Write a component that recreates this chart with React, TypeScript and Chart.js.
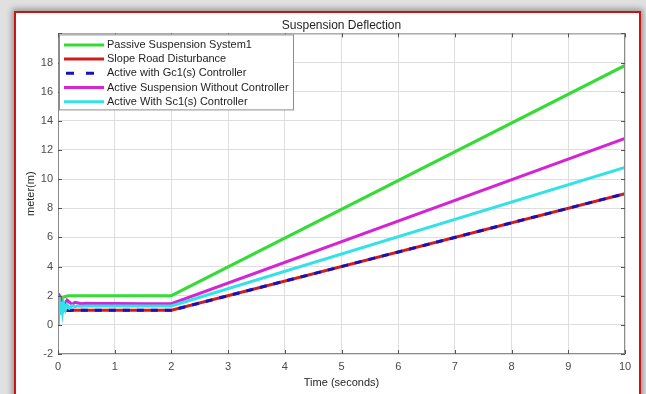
import { useEffect, useRef } from "react";
import { Chart, registerables } from "chart.js";

Chart.register(...registerables);

// Simulation time (s) and suspension deflection (m) of each configuration
const timeSec = [0, 0.02, 0.04, 0.06, 0.08, 0.1, 0.13, 0.16, 0.2, 0.25, 0.3, 0.35, 0.4, 0.5, 0.7, 1.0, 1.5, 2.0, 10];
const passiveSystem = [0, 1.0, 1.5, 1.75, 1.85, 1.9, 1.95, 1.98, 2.0, 2.0, 2.0, 2.0, 2.0, 2.0, 2.0, 2.0, 2.0, 2.0, 17.8];
const slopeRoad = [1, 1, 1, 1, 1, 1, 1, 1, 1, 1, 1, 1, 1, 1, 1, 1, 1, 1, 9];
const activeGc1 = [0.9, 1.1, 1.15, 1.0, 0.9, 0.95, 1.05, 1.0, 0.98, 1.0, 1.0, 1.0, 1.0, 1.0, 1.0, 1.0, 1.0, 1.0, 9.0];
const activeNoController = [2.0, 2.05, 1.9, 1.6, 1.3, 1.2, 1.5, 1.7, 1.55, 1.42, 1.55, 1.5, 1.45, 1.48, 1.46, 1.46, 1.45, 1.45, 12.8];
const activeSc1 = [0, 1.9, 0.7, 1.6, 0.9, 1.45, 1.05, 1.38, 1.15, 1.33, 1.25, 1.3, 1.27, 1.3, 1.3, 1.3, 1.3, 1.3, 10.8];

const seriesLabels = [
  "Passive Suspension System1",
  "Slope Road Disturbance",
  "Active with Gc1(s) Controller",
  "Active Suspension Without Controller",
  "Active With Sc1(s) Controller",
];
const seriesValues = [passiveSystem, slopeRoad, activeGc1, activeNoController, activeSc1];
const seriesColors = ["#35dc35", "#d21c1c", "#1212c4", "#d425d4", "#33e2e6"];
const seriesDash: number[][] = [[], [], [7, 7], [], []];
// MATLAB plots later series on top
const seriesOrder = [5, 4, 3, 2, 1];

const xTicks = [0, 1, 2, 3, 4, 5, 6, 7, 8, 9, 10];
const yTicks = [-2, 0, 2, 4, 6, 8, 10, 12, 14, 16, 18, 20];

const FONT = "'Liberation Sans', Arial, sans-serif";

const axesBoxPlugin = {
  id: "axesBox",
  afterDatasetsDraw(chart: any) {
    const { ctx, chartArea: a, scales } = chart;
    ctx.save();
    ctx.strokeStyle = "#8c8c8c";
    ctx.lineWidth = 1;
    ctx.strokeRect(a.left + 0.5, a.top + 0.5, a.right - a.left - 1, a.bottom - a.top - 1);
    ctx.strokeStyle = "#555";
    ctx.beginPath();
    const len = 4;
    for (const v of xTicks) {
      const x = Math.round(scales.x.getPixelForValue(v)) + 0.5;
      ctx.moveTo(x, a.bottom);
      ctx.lineTo(x, a.bottom - len);
      ctx.moveTo(x, a.top);
      ctx.lineTo(x, a.top + len);
    }
    for (const v of yTicks) {
      const y = Math.round(scales.y.getPixelForValue(v)) + 0.5;
      ctx.moveTo(a.left, y);
      ctx.lineTo(a.left + len, y);
      ctx.moveTo(a.right, y);
      ctx.lineTo(a.right - len, y);
    }
    ctx.stroke();
    ctx.restore();
  },
  afterDraw(chart: any) {
    const { ctx, chartArea: a } = chart;
    const left = a.left + 1;
    const top = a.top + 1;
    const w = 234;
    const h = 75;
    ctx.save();
    ctx.fillStyle = "#fff";
    ctx.fillRect(left, top, w, h);
    ctx.strokeStyle = "#8c8c8c";
    ctx.lineWidth = 1;
    ctx.strokeRect(left + 0.5, top + 0.5, w, h);
    ctx.font = `11px ${FONT}`;
    ctx.textBaseline = "middle";
    ctx.textAlign = "left";
    seriesLabels.forEach((label, i) => {
      const y = top + 10.5 + i * 14.2;
      ctx.strokeStyle = seriesColors[i];
      ctx.lineWidth = 3;
      ctx.setLineDash(i === 2 ? [8, 12] : []);
      ctx.lineDashOffset = -2;
      ctx.beginPath();
      ctx.moveTo(left + 5, y);
      ctx.lineTo(left + 45, y);
      ctx.stroke();
      ctx.setLineDash([]);
      ctx.fillStyle = "#1e1e1e";
      ctx.fillText(label, left + 48, y);
    });
    ctx.restore();
  },
};

export default function App() {
  const canvasRef = useRef<HTMLCanvasElement>(null);

  useEffect(() => {
    if (!canvasRef.current) return;
    const chart = new Chart(canvasRef.current, {
      type: "line",
      data: {
        datasets: seriesLabels.map((label, i) => ({
          label,
          data: timeSec.map((t, k) => ({ x: t, y: seriesValues[i][k] })),
          borderColor: seriesColors[i],
          backgroundColor: seriesColors[i],
          borderWidth: 3,
          borderDash: seriesDash[i],
          pointRadius: 0,
          tension: 0,
          fill: false,
          order: seriesOrder[i],
        })),
      },
      options: {
        animation: false,
        responsive: false,
        devicePixelRatio: 1,
        layout: { padding: { left: 0, right: 21, top: 0, bottom: 0 } },
        plugins: {
          legend: { display: false },
          tooltip: { enabled: false },
          title: {
            display: true,
            text: "Suspension Deflection",
            fullSize: false,
            color: "#1e1e1e",
            font: { family: FONT, size: 12, weight: "normal" },
            padding: { top: 18, bottom: 1 },
          },
        },
        scales: {
          x: {
            type: "linear",
            min: 0,
            max: 10,
            afterFit: (s: any) => {
              s.height = 40;
            },
            afterBuildTicks: (s: any) => {
              s.ticks = xTicks.map((v) => ({ value: v }));
            },
            ticks: {
              color: "#4a4a4a",
              font: { family: FONT, size: 11 },
              padding: 6,
              maxRotation: 0,
            },
            grid: { color: "#dedede", drawTicks: false },
            border: { display: false },
            title: {
              display: true,
              text: "Time (seconds)",
              color: "#262626",
              font: { family: FONT, size: 11 },
              padding: { top: 0, bottom: 4 },
            },
          },
          y: {
            type: "linear",
            min: -2,
            max: 20,
            afterFit: (s: any) => {
              s.width = 58;
            },
            afterBuildTicks: (s: any) => {
              s.ticks = yTicks.map((v) => ({ value: v }));
            },
            ticks: {
              color: "#4a4a4a",
              font: { family: FONT, size: 11 },
              padding: 5,
              callback: (v: any) => (Number(v) === 20 ? "" : String(v)),
            },
            grid: { color: "#dedede", drawTicks: false },
            border: { display: false },
            title: {
              display: true,
              text: "meter(m)",
              color: "#262626",
              font: { family: FONT, size: 11 },
              padding: { top: 24, bottom: 0 },
            },
          },
        },
      },
      plugins: [axesBoxPlugin],
    });
    return () => chart.destroy();
  }, []);

  return (
    <div
      style={{
        position: "fixed",
        left: 0,
        top: 0,
        width: 646,
        height: 394,
        overflow: "hidden",
        background: "#e0e0e0",
      }}
    >
      <div
        style={{
          position: "absolute",
          left: 14,
          top: 11,
          width: 623,
          height: 430,
          background: "#fff",
          border: "2px solid #c91414",
          boxShadow: "0 0 6px 2px rgba(0,0,0,0.35)",
        }}
      />
      <canvas
        ref={canvasRef}
        width={646}
        height={394}
        style={{ position: "absolute", left: 0, top: 0, width: 646, height: 394 }}
      />
    </div>
  );
}
